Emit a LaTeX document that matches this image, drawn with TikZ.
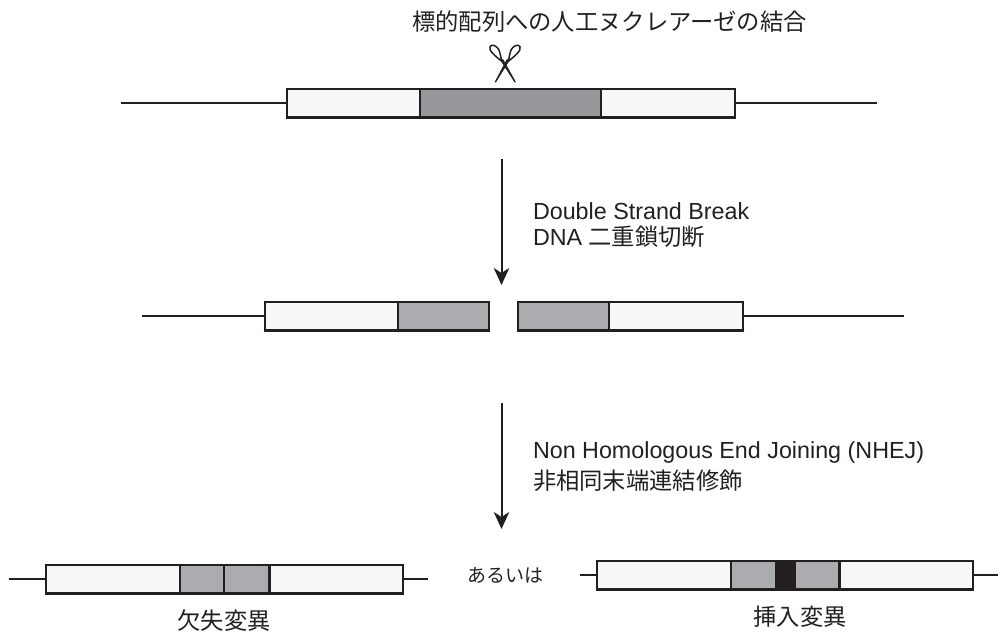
\documentclass[tikz,border=0pt]{standalone}
\usepackage{fontspec}
\setmainfont{Liberation Sans}
\newfontfamily\cjk{Noto Sans CJK JP}
\usetikzlibrary{arrows.meta}
\definecolor{ink}{HTML}{231F20}
\definecolor{pale}{HTML}{F7F7F7}
\definecolor{midg}{HTML}{ABACAF}
\definecolor{darkg}{HTML}{97989B}
\tikzset{
  seg/.style={draw=ink,line width=2.2pt,minimum height=0pt,minimum width=0pt,inner sep=0pt,outer sep=0pt,anchor=north west},
  wire/.style={draw=ink,line width=2pt},
  flow/.style={draw=ink,line width=2pt,-{Stealth[length=17pt,width=15.5pt,inset=5pt]}},
  lab/.style={inner sep=0pt,outer sep=0pt,text=ink,font=\fontsize{23.3}{27}\selectfont,align=left},
  jl/.style={inner sep=0pt,outer sep=0pt,text=ink,font=\cjk\fontsize{23.3}{27}\selectfont},
  loopline/.style={draw=ink,line width=1.5pt,fill=white,line join=round},
  bladefill/.style={fill=ink,draw=ink,line width=.5pt,line join=round},
}
\newcommand{\segbox}[5]{\node[seg,fill=#5,minimum width=#3pt,minimum height=28.5pt] (#1) at (#2) {};}
\begin{document}
\begin{tikzpicture}[x=1pt,y=-1pt]
\useasboundingbox (0,0) rectangle (1000,633);
% top
\node[jl] (title) at (609.5,22) {標的配列への人工ヌクレアーゼの結合};
\segbox{a1}{287,89}{133}{29}{pale}
\segbox{a2}{420,89}{181}{29}{darkg}
\segbox{a3}{601,89}{134}{29}{pale}
\coordinate (al) at (121,103.25);\coordinate (ar) at (877,103.25);
\draw[wire] (al) -- (a1.west);
\draw[wire] (a3.east) -- (ar);
% scissors
\draw[loopline] (501.5,61) .. controls (495,56) and (488,50) .. (490,46.5) .. controls (492,43.5) and (497,46) .. (499,50) .. controls (500,53) and (501,57) .. (501.5,61);
\draw[loopline] (508.5,61) .. controls (515,56) and (522,50) .. (520,46.5) .. controls (518,43.5) and (513,46) .. (511,50) .. controls (510,53) and (509,57) .. (508.5,61);
\fill[bladefill] (500.5,60) -- (503,59.5) -- (515.5,82) -- (514.7,82) -- cycle;
\fill[bladefill] (509.5,60) -- (507,59.5) -- (495,82) -- (495.8,82) -- cycle;
% arrow 1
\coordinate (f1s) at (501.5,159);\coordinate (f1e) at (501.5,285);
\draw[flow] (f1s) -- (f1e);
\node[lab,anchor=west] (l1) at (533,211) {Double Strand Break};
\node[lab,anchor=west] (l2) at (533,237) {DNA {\cjk 二重鎖切断}};
% middle
\segbox{b1}{265,302}{133}{29}{pale}
\segbox{b2}{398,302}{91}{29}{midg}
\segbox{b3}{518,302}{91}{29}{midg}
\segbox{b4}{609,302}{134}{29}{pale}
\coordinate (bl) at (142,316.25);\coordinate (br) at (904,316.25);
\draw[wire] (bl) -- (b1.west);
\draw[wire] (b4.east) -- (br);
% arrow 2
\coordinate (f2s) at (501.5,403);\coordinate (f2e) at (501.5,529);
\draw[flow] (f2s) -- (f2e);
\node[lab,anchor=west] (l3) at (533,452) {Non Homologous End Joining (NHEJ)};
\node[jl,anchor=west] (l4) at (533,481) {非相同末端連結修飾};
% bottom left
\segbox{c1}{46,565}{134}{29}{pale}
\segbox{c2}{180,565}{44}{29}{midg}
\segbox{c3}{224,565}{45.5}{29}{midg}
\segbox{c4}{269.5,565}{133.5}{29}{pale}
\coordinate (cl) at (9,579.25);\coordinate (cr) at (428,579.25);
\draw[wire] (cl) -- (c1.west);
\draw[wire] (c4.east) -- (cr);
\node[jl] (l5) at (224,621) {欠失変異};
\node[jl,font=\cjk\fontsize{19}{22}\selectfont] (l6) at (505.5,575) {あるいは};
% bottom right
\segbox{d1}{597,561}{134}{29}{pale}
\segbox{d2}{731,561}{45}{29}{midg}
\segbox{d3}{776,561}{19}{29}{ink}
\segbox{d4}{795,561}{44.5}{29}{midg}
\segbox{d5}{839.5,561}{133.5}{29}{pale}
\coordinate (dl) at (580,575.25);\coordinate (dr) at (998,575.25);
\draw[wire] (dl) -- (d1.west);
\draw[wire] (d5.east) -- (dr);
\node[jl] (l7) at (800,617) {挿入変異};
\end{tikzpicture}
\end{document}
